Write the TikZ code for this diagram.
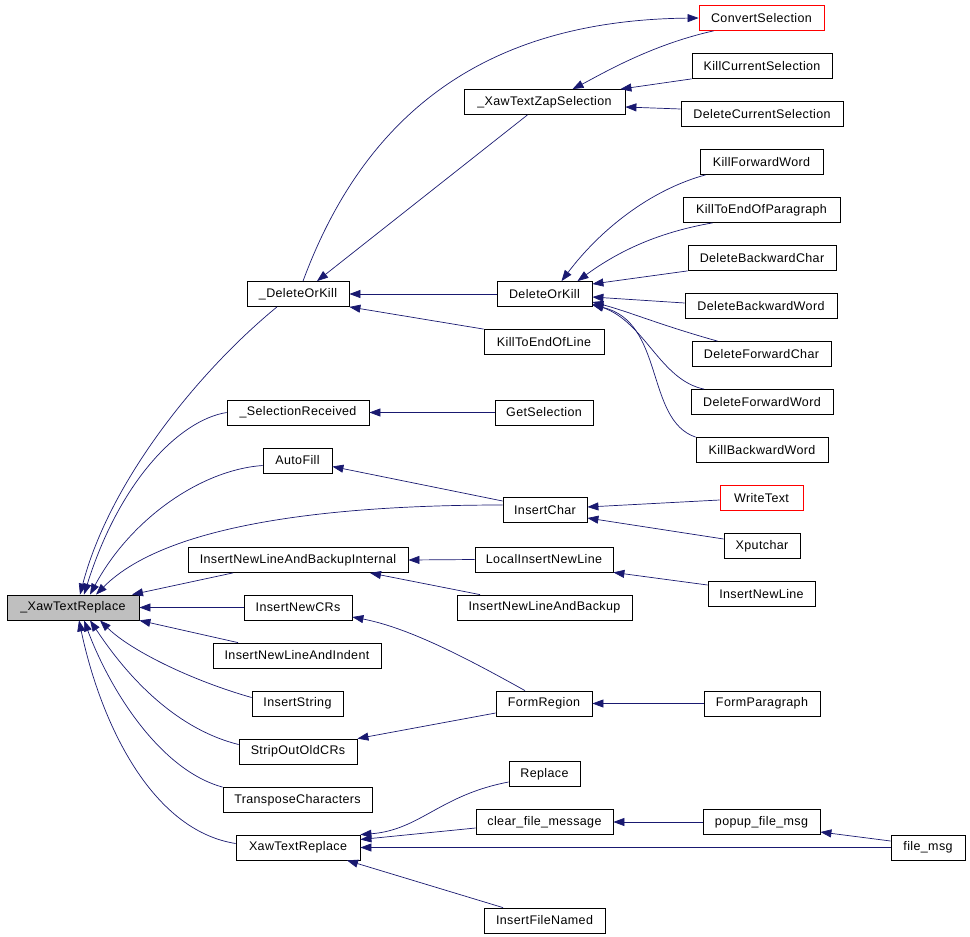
\documentclass[tikz,border=0pt]{standalone}
\usepackage{fontspec}
\setmainfont[LetterSpace=3]{Liberation Sans}
\usetikzlibrary{arrows.meta}

\definecolor{kantenfarbe}{RGB}{25,25,112}
\definecolor{grau}{RGB}{191,191,191}

\tikzset{
    kasten/.style={draw=black, line width=0.8pt, fill=white, minimum height=25, inner sep=0pt, font=\fontsize{12.5}{14}\selectfont},
    aktuell/.style={kasten, fill=grau},
    rotkasten/.style={kasten, draw=red},
    kante/.style={draw=kantenfarbe, line width=0.7pt, -{Triangle[length=11pt,width=8pt]}}
}

\begin{document}
\begin{tikzpicture}[x=1pt, y=-1pt]

        \useasboundingbox (0,0) rectangle (970,937);

        % Spalte 1
        \node [aktuell, minimum width=132] (xtr) at (73,607.5) {\_XawTextReplace};

        % Spalte 2
        \node [kasten, minimum width=102] (dokint) at (298,294) {\_DeleteOrKill};
        \node [kasten, minimum width=142] (selrec) at (298,412.5) {\_SelectionReceived};
        \node [kasten, minimum width=69] (autofill) at (297.5,460.5) {AutoFill};
        \node [kasten, minimum width=220] (nlbi) at (298,560) {InsertNewLineAndBackupInternal};
        \node [kasten, minimum width=108] (ncr) at (298,607.5) {InsertNewCRs};
        \node [kasten, minimum width=168] (nli) at (297,655.5) {InsertNewLineAndIndent};
        \node [kasten, minimum width=91] (istr) at (297.5,703.5) {InsertString};
        \node [kasten, minimum width=118] (strip) at (298,751.5) {StripOutOldCRs};
        \node [kasten, minimum width=149] (trans) at (297.5,800) {TransposeCharacters};
        \node [kasten, minimum width=124] (xawtr) at (298,847.5) {XawTextReplace};

        % Spalte 3
        \node [kasten, minimum width=161] (zap) at (544.5,102) {\_XawTextZapSelection};
        \node [kasten, minimum width=95] (dok) at (544.5,294) {DeleteOrKill};
        \node [kasten, minimum width=120] (killeol) at (544,342) {KillToEndOfLine};
        \node [kasten, minimum width=98] (getsel) at (544,412.5) {GetSelection};
        \node [kasten, minimum width=84] (ichar) at (545,510) {InsertChar};
        \node [kasten, minimum width=138] (linl) at (544,559.5) {LocalInsertNewLine};
        \node [kasten, minimum width=175] (nlb) at (544.5,607.5) {InsertNewLineAndBackup};
        \node [kasten, minimum width=96] (formreg) at (544,703.5) {FormRegion};
        \node [kasten, minimum width=71] (replace) at (544.5,774) {Replace};
        \node [kasten, minimum width=137] (cfm) at (544.5,822) {clear\_file\_message};
        \node [kasten, minimum width=121] (ifn) at (544.5,920.5) {InsertFileNamed};

        % Spalte 4
        \node [rotkasten, minimum width=125] (convsel) at (761.5,18) {ConvertSelection};
        \node [kasten, minimum width=140] (killcur) at (762,66) {KillCurrentSelection};
        \node [kasten, minimum width=162] (delcur) at (762,114) {DeleteCurrentSelection};
        \node [kasten, minimum width=123] (killfw) at (761.5,162) {KillForwardWord};
        \node [kasten, minimum width=157] (killpar) at (761.5,210) {KillToEndOfParagraph};
        \node [kasten, minimum width=148] (delbc) at (762,258) {DeleteBackwardChar};
        \node [kasten, minimum width=152] (delbw) at (761,306) {DeleteBackwardWord};
        \node [kasten, minimum width=139] (delfc) at (761.5,354) {DeleteForwardChar};
        \node [kasten, minimum width=142] (delfw) at (762,402) {DeleteForwardWord};
        \node [kasten, minimum width=132] (killbw) at (762,450) {KillBackwardWord};
        \node [rotkasten, minimum width=83] (writetext) at (761.5,498) {WriteText};
        \node [kasten, minimum width=76] (xputchar) at (762,546) {Xputchar};
        \node [kasten, minimum width=107] (inl) at (761.5,594) {InsertNewLine};
        \node [kasten, minimum width=116] (formpar) at (762,703.5) {FormParagraph};
        \node [kasten, minimum width=117] (popup) at (761.5,822) {popup\_file\_msg};

        % Spalte 5
        \node [kasten, minimum width=74] (filemsg) at (928,847.5) {file\_msg};

        % waagrechte Kanten
        \foreach \von/\nach in {ncr.west/xtr.east, dok.west/dokint.east, getsel.west/selrec.east, linl.west/nlbi.east, formpar.west/formreg.east, popup.west/cfm.east, filemsg.west/xawtr.east}
            \draw [kante] (\von) -- (\nach);

        % Kanten nach _XawTextReplace
        \draw [kante] ([xshift=-21pt]dokint.south) .. controls (200,370) and (110,480) .. ([xshift=7pt]xtr.north);
        \draw [kante] (selrec.west) .. controls (180,420) and (120,480) .. ([xshift=11pt]xtr.north);
        \draw [kante] ([yshift=-5pt]autofill.west) .. controls (200,470) and (130,520) .. ([xshift=17pt]xtr.north);
        \draw [kante] ([yshift=5pt]ichar.west) .. controls (350,505) and (170,520) .. ([xshift=23pt]xtr.north);
        \draw [kante] ([xshift=-65pt]nlbi.south) -- ([xshift=59pt]xtr.north);
        \draw [kante] ([xshift=-59pt]nli.north) -- (xtr.south east);
        \draw [kante] ([yshift=6pt]istr.west) .. controls (190,680) and (130,650) .. ([xshift=27pt]xtr.south);
        \draw [kante] ([yshift=7pt]strip.west) .. controls (160,725) and (110,650) .. ([xshift=17pt]xtr.south);
        \draw [kante] (trans.north west) .. controls (160,770) and (110,690) .. ([xshift=11pt]xtr.south);
        \draw [kante] ([yshift=4pt]xawtr.west) .. controls (150,830) and (100,720) .. ([xshift=6pt]xtr.south);

        % Kanten oben
        \draw [kante] ([xshift=5pt]dokint.north) .. controls (370,100) and (500,20) .. (convsel.west);
        \draw [kante] ([xshift=-48pt]convsel.south) .. controls (650,45) and (600,75) .. ([xshift=28pt]zap.north);
        \draw [kante] (killcur.south west) -- ([xshift=-5pt]zap.north east);
        \draw [kante] ([yshift=5pt]delcur.west) -- ([yshift=-5pt]zap.east);
        \draw [kante] ([xshift=-17pt]zap.south) -- ([xshift=19pt]dokint.north);
        \draw [kante] (killeol.north west) -- (dokint.south east);

        % Kanten nach DeleteOrKill
        \draw [kante] ([xshift=-56pt]killfw.south) .. controls (650,190) and (600,230) .. ([xshift=17pt]dok.north);
        \draw [kante] ([xshift=-49pt]killpar.south) .. controls (660,232) and (620,250) .. ([xshift=33pt]dok.north);
        \draw [kante] (delbc.south west) -- ([yshift=10pt]dok.east);
        \draw [kante] ([yshift=3pt]delbw.west) -- ([yshift=-3pt]dok.east);
        \draw [kante] ([xshift=-44pt]delfc.north) .. controls (660,325) and (630,312) .. ([yshift=-8pt]dok.east);
        \draw [kante] ([xshift=-58pt]delfw.north) .. controls (660,380) and (645,322) .. ([yshift=-10pt]dok.east);
        \draw [kante] (killbw.north west) .. controls (645,420) and (665,322) .. ([yshift=-11pt]dok.east);

        % Kanten Mitte
        \draw [kante] ([yshift=9pt]ichar.west) -- ([yshift=-6pt]autofill.east);
        \draw [kante] ([yshift=-2pt]writetext.west) -- ([yshift=3pt]ichar.east);
        \draw [kante] ([yshift=7pt]xputchar.west) -- ([yshift=-8pt]ichar.east);
        \draw [kante] ([xshift=-64.5pt]nlb.north) -- ([xshift=72pt]nlbi.south);
        \draw [kante] ([yshift=9pt]inl.west) -- (linl.south east);
        \draw [kante] ([xshift=-19pt]formreg.north) .. controls (470,660) and (410,628) .. ([yshift=-9.5pt]ncr.east);
        \draw [kante] ([yshift=-9.5pt]formreg.west) -- (strip.north east);

        % Kanten unten
        \draw [kante] ([yshift=-8pt]replace.west) .. controls (440,795) and (420,830) .. (xawtr.north east);
        \draw [kante] ([yshift=-6pt]cfm.west) -- ([yshift=8pt]xawtr.east);
        \draw [kante] ([xshift=-41.5pt]ifn.north) -- ([xshift=49pt]xawtr.south);
        \draw [kante] ([yshift=6.5pt]filemsg.west) -- ([yshift=-10pt]popup.east);

\end{tikzpicture}
\end{document}
